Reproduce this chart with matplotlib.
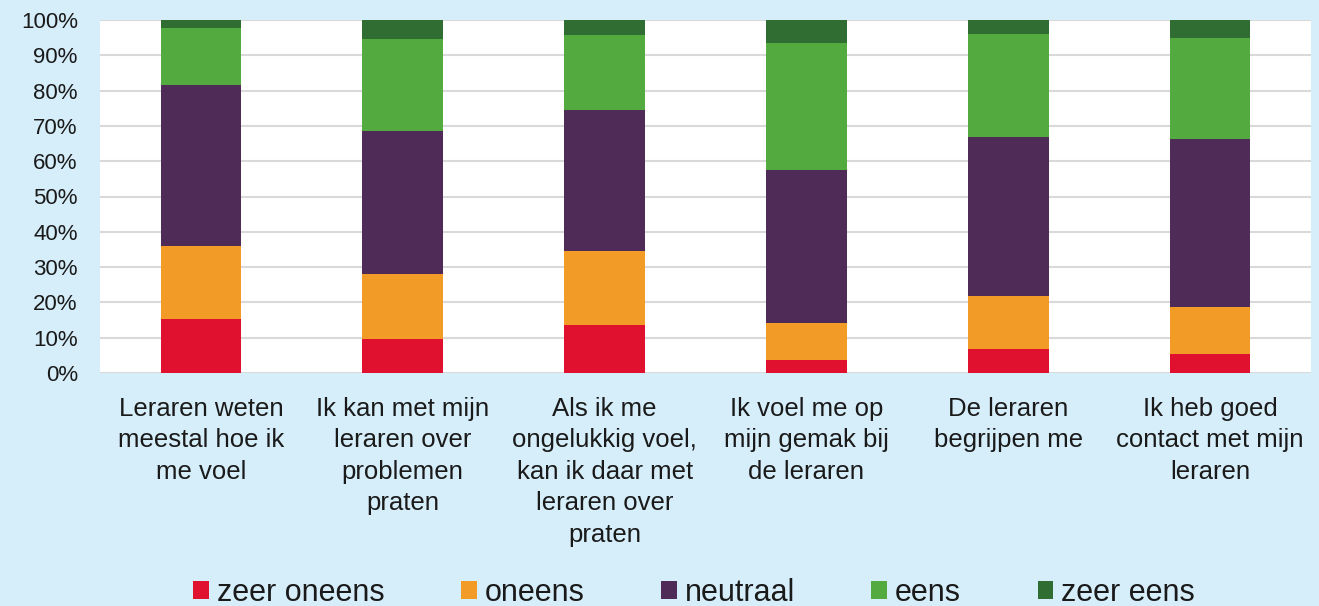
import numpy as np
import matplotlib
matplotlib.use("Agg")
import matplotlib.pyplot as plt
from matplotlib.ticker import PercentFormatter

plt.rcParams['font.family'] = ['Liberation Sans', 'DejaVu Sans']

# Data (percentages)
categories = [
    "Leraren weten\nmeestal hoe ik\nme voel",
    "Ik kan met mijn\nleraren over\nproblemen\npraten",
    "Als ik me\nongelukkig voel,\nkan ik daar met\nleraren over\npraten",
    "Ik voel me op\nmijn gemak bij\nde leraren",
    "De leraren\nbegrijpen me",
    "Ik heb goed\ncontact met mijn\nleraren",
]
series_names = ["zeer oneens", "oneens", "neutraal", "eens", "zeer eens"]
zeer_oneens = [15.3, 9.5, 13.5, 3.8, 6.7, 5.3]
oneens = [20.6, 18.6, 21.1, 10.4, 15.0, 13.5]
neutraal = [45.8, 40.4, 40.0, 43.3, 45.1, 47.6]
eens = [16.1, 26.1, 21.1, 36.1, 29.3, 28.6]
zeer_eens = [2.2, 5.4, 4.3, 6.4, 3.9, 5.0]

colors = ["#E0102F", "#F29B26", "#4F2C58", "#53AA3F", "#306D33"]
bg = "#D6EEFA"
text_color = "#1a1a1a"

fig = plt.figure(figsize=(13.19, 6.06), dpi=100, facecolor=bg)
ax = fig.add_axes([100 / 1319, 1 - 373 / 606, 1211 / 1319, 353 / 606])
ax.set_facecolor("white")

x = np.arange(len(categories))
bottom = np.zeros(len(categories))
for name, vals, col in zip(series_names,
                           [zeer_oneens, oneens, neutraal, eens, zeer_eens],
                           colors):
    ax.bar(x, vals, width=0.4, bottom=bottom, color=col, label=name, zorder=3)
    bottom += np.array(vals)

ax.set_xlim(-0.5, len(categories) - 0.5)
ax.set_ylim(0, 100)
ax.set_yticks(np.arange(0, 101, 10))
ax.yaxis.set_major_formatter(PercentFormatter(decimals=0))
ax.set_xticks(x)
ax.set_xticklabels(categories, fontsize=18.5, color=text_color, linespacing=1.4)
ax.tick_params(axis='y', labelsize=16, labelcolor=text_color, length=0, pad=16)
ax.tick_params(axis='x', length=0, pad=17)
ax.grid(axis='y', color="#D9D9D9", linewidth=1.5, zorder=0)
for s in ax.spines.values():
    s.set_visible(False)

leg = fig.legend(loc='center', bbox_to_anchor=(694 / 1319, 1 - 593 / 606),
                 ncol=5, frameon=False, fontsize=22, handlelength=0.52,
                 handleheight=0.52, handletextpad=0.26, columnspacing=2.5,
                 borderpad=0)
for t in leg.get_texts():
    t.set_color(text_color)

fig.savefig("out.png", dpi=100, facecolor=bg)
